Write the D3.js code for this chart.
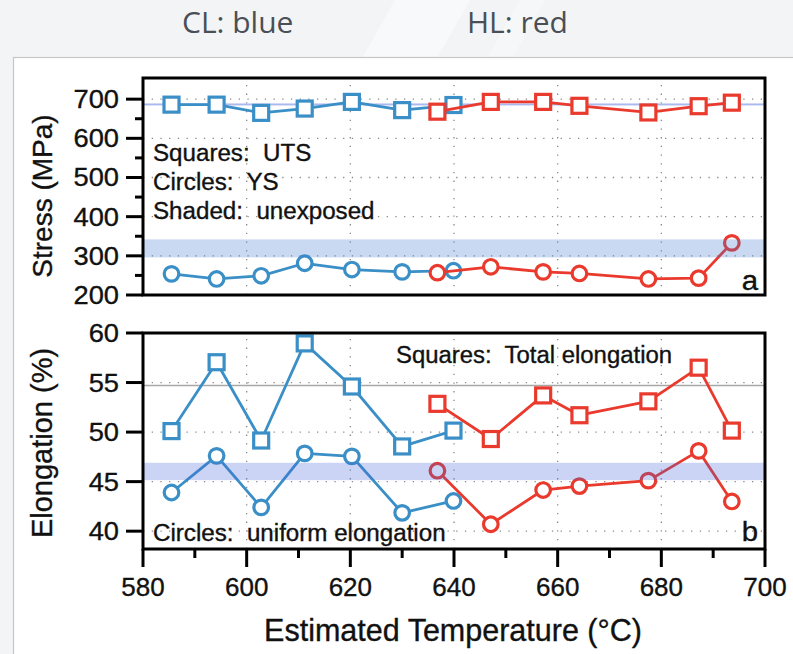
<!DOCTYPE html>
<html><head><meta charset="utf-8">
<script src="https://cdn.jsdelivr.net/npm/d3@7"></script>
<style>html,body{margin:0;padding:0;background:#f4f5f7;} svg{display:block;}</style>
</head><body>
<script>
// ---------- data ----------
const clTemp = [585.5, 594.2, 602.8, 611.2, 620.3, 630.0, 639.9];
const clUTS = [686, 686, 665, 676, 693, 672, 685];
const clYS = [254, 241, 249, 281, 265, 259, 262];
const hlTemp = [636.8, 647.1, 657.2, 664.2, 677.5, 687.2, 693.6];
const hlUTS = [668, 693, 693, 683, 666, 682, 691];
const hlYS = [257, 272, 259, 255, 241, 243, 333];
const clTotalEl = [50.1, 57.05, 49.15, 58.95, 54.6, 48.55, 50.15];
const clUniformEl = [43.9, 47.6, 42.4, 47.85, 47.55, 41.85, 43.05];
const hlTotalEl = [52.85, 49.3, 53.7, 51.7, 53.1, 56.5, 50.15];
const hlUniformEl = [46.1, 40.7, 44.15, 44.55, 45.1, 48.1, 43.0];
const unexposedYS = [296, 342];
const unexposedUTS = [684, 689];
const unexposedUniformEl = [45.15, 46.9];
const unexposedTotalEl = 54.7;
const xTicks = [580, 600, 620, 640, 660, 680, 700];
const xMinor = [590, 610, 630, 650, 670, 690];
const xGrid = [600, 620, 640, 660, 680];
const stressTicks = [200, 300, 400, 500, 600, 700];
const stressMinor = [250, 350, 450, 550, 650];
const stressGrid = [300, 400, 500, 600, 700];
const elTicks = [40, 45, 50, 55, 60];
const elGrid = [40, 45, 50, 55];

const BLUE = "#3b8fc7", RED = "#ea3a2d";
const FONT = "'Liberation Sans', Arial, Helvetica, sans-serif";

const W = 793, H = 654;
const svg = d3.select("body").append("svg").attr("width", W).attr("height", H);

// ---------- page background ----------
svg.append("rect").attr("width", W).attr("height", H).attr("fill", "#f3f4f6");
svg.append("polygon").attr("points", "395,0 470,0 100,654 25,654").attr("fill", "#f8f9fa");
svg.append("polygon").attr("points", "520,0 545,0 175,654 150,654").attr("fill", "#f6f7f8");
svg.append("rect").attr("x", 13.5).attr("y", 57.5).attr("width", 800).attr("height", 620)
  .attr("fill", "#ffffff").attr("stroke", "#c6c6c6").attr("stroke-width", 1.2);
svg.append("text").attr("x", 182).attr("y", 33).text("CL: blue")
  .attr("font-family", "'Open Sans', 'Noto Sans', sans-serif").attr("font-size", 30).attr("fill", "#4a4f55");
svg.append("text").attr("x", 467).attr("y", 33).text("HL: red")
  .attr("font-family", "'Open Sans', 'Noto Sans', sans-serif").attr("font-size", 30).attr("fill", "#4a4f55");

// ---------- scales ----------
const x = d3.scaleLinear().domain([580, 700]).range([143, 765]);
const yA = d3.scaleLinear().domain([200, 754]).range([295, 78]);
const yB = d3.scaleLinear().domain([38.2, 60]).range([549, 333]);

function txt(g, px, py, s, size, anchor, sx) {
  return g.append("text")
    .attr("transform", `translate(${px},${py}) scale(${sx || 1},1)`)
    .attr("text-anchor", anchor || "start")
    .attr("font-family", FONT).attr("font-size", size).attr("fill", "#111")
    .attr("stroke", "#111").attr("stroke-width", 0.35)
    .attr("xml:space", "preserve").style("white-space", "pre")
    .text(s);
}

function panel(y, grid, ticks, minor, fmt, series, bands, refLine, refColor, id) {
  const g = svg.append("g");
  const [y0, y1] = y.range();
  g.append("clipPath").attr("id", id).append("rect")
    .attr("x", x(580)).attr("y", y1).attr("width", x(700) - x(580)).attr("height", y0 - y1);
  const gc = g.append("g").attr("clip-path", `url(#${id})`);
  // dotted grid
  gc.selectAll(".hg").data(grid).join("line")
    .attr("x1", x(580)).attr("x2", x(700)).attr("y1", d => y(d)).attr("y2", d => y(d))
    .attr("stroke", "#8a8a8a").attr("stroke-width", 1.3).attr("stroke-dasharray", "1.3,7.4");
  gc.selectAll(".vg").data(xGrid).join("line")
    .attr("y1", y0).attr("y2", y1).attr("x1", d => x(d)).attr("x2", d => x(d))
    .attr("stroke", "#8a8a8a").attr("stroke-width", 1.3).attr("stroke-dasharray", "1.3,7.4");
  // reference line
  if (Array.isArray(refLine)) {
    gc.append("rect").attr("x", x(580)).attr("width", x(700) - x(580))
      .attr("y", y(refLine[1])).attr("height", y(refLine[0]) - y(refLine[1]))
      .attr("fill", refColor);
  } else {
    gc.append("line").attr("x1", x(580)).attr("x2", x(700))
      .attr("y1", y(refLine)).attr("y2", y(refLine)).attr("stroke", refColor).attr("stroke-width", 1.6);
  }
  // series
  const line = d3.line().x(d => x(d[0])).y(d => y(d[1]));
  series.forEach(s => {
    const pts = s.t.map((t, i) => [t, s.v[i]]);
    gc.append("path").attr("d", line(pts)).attr("fill", "none")
      .attr("stroke", s.c).attr("stroke-width", 2.8).attr("stroke-linejoin", "round");
    if (s.m === "sq") {
      gc.selectAll(null).data(pts).join("rect")
        .attr("x", d => x(d[0]) - 7.5).attr("y", d => y(d[1]) - 7.5).attr("width", 15).attr("height", 15)
        .attr("fill", "#fff").attr("stroke", s.c).attr("stroke-width", 3.2);
    } else {
      gc.selectAll(null).data(pts).join("circle")
        .attr("cx", d => x(d[0])).attr("cy", d => y(d[1])).attr("r", 7.3)
        .attr("fill", "#fff").attr("stroke", s.c).attr("stroke-width", 3.2);
    }
  });
  // translucent band (unexposed)
  bands.forEach(b => {
    gc.append("rect").attr("x", x(580)).attr("width", x(700) - x(580))
      .attr("y", y(b.r[1])).attr("height", y(b.r[0]) - y(b.r[1]))
      .attr("fill", b.c).attr("fill-opacity", 0.28);
  });
  // frame
  g.append("rect").attr("x", x(580)).attr("y", y1).attr("width", x(700) - x(580)).attr("height", y0 - y1)
    .attr("fill", "none").attr("stroke", "#000").attr("stroke-width", 3);
  // y ticks
  g.selectAll(".yt").data(ticks).join("line")
    .attr("x1", x(580) - 17).attr("x2", x(580)).attr("y1", d => y(d)).attr("y2", d => y(d))
    .attr("stroke", "#000").attr("stroke-width", 3);
  g.selectAll(".ym").data(minor).join("line")
    .attr("x1", x(580) - 8).attr("x2", x(580)).attr("y1", d => y(d)).attr("y2", d => y(d))
    .attr("stroke", "#000").attr("stroke-width", 3);
  ticks.forEach(t => txt(g, 119, y(t) + 9, fmt(t), 26, "end", 1.05));
  return g;
}

const gA = panel(yA, stressGrid, stressTicks, stressMinor, d3.format("d"), [
  { t: clTemp, v: clUTS, c: BLUE, m: "sq" },
  { t: clTemp, v: clYS, c: BLUE, m: "ci" },
  { t: hlTemp, v: hlUTS, c: RED, m: "sq" },
  { t: hlTemp, v: hlYS, c: RED, m: "ci" }
], [{ r: unexposedYS, c: "#3f78d0" }], unexposedUTS, "#aab9ee", "clipA");

const gB = panel(yB, elGrid, elTicks, [], d3.format("d"), [
  { t: clTemp, v: clTotalEl, c: BLUE, m: "sq" },
  { t: clTemp, v: clUniformEl, c: BLUE, m: "ci" },
  { t: hlTemp, v: hlTotalEl, c: RED, m: "sq" },
  { t: hlTemp, v: hlUniformEl, c: RED, m: "ci" }
], [{ r: unexposedUniformEl, c: "#4664d8" }], unexposedTotalEl, "#a8a8a8", "clipB");

// x axis ticks (bottom panel)
gB.selectAll(".xt").data(xTicks).join("line")
  .attr("x1", d => x(d)).attr("x2", d => x(d)).attr("y1", 549).attr("y2", 567)
  .attr("stroke", "#000").attr("stroke-width", 3);
gB.selectAll(".xm").data(xMinor).join("line")
  .attr("x1", d => x(d)).attr("x2", d => x(d)).attr("y1", 549).attr("y2", 558)
  .attr("stroke", "#000").attr("stroke-width", 3);
xTicks.forEach(t => txt(gB, x(t), 596, String(t), 26, "middle", 1.0));

// annotations
txt(gA, 153, 161, "Squares:  UTS", 23, "start", 1.05);
txt(gA, 153, 190, "Circles:  YS", 23, "start", 1.05);
txt(gA, 153, 219, "Shaded:  unexposed", 23, "start", 1.05);
txt(gA, 758, 290, "a", 28, "end", 1.05);
txt(gB, 396, 363, "Squares:  Total elongation", 23, "start", 1.04);
txt(gB, 153, 541, "Circles:  uniform elongation", 23, "start", 1.05);
txt(gB, 758, 541, "b", 28, "end", 1.05);

// axis titles
svg.append("text").attr("transform", `translate(52,196) rotate(-90)`).attr("text-anchor", "middle")
  .attr("font-family", FONT).attr("font-size", 28).attr("fill", "#111")
  .attr("stroke", "#111").attr("stroke-width", 0.35).text("Stress (MPa)");
svg.append("text").attr("transform", `translate(52,443) rotate(-90)`).attr("text-anchor", "middle")
  .attr("font-family", FONT).attr("font-size", 29).attr("fill", "#111")
  .attr("stroke", "#111").attr("stroke-width", 0.35).text("Elongation (%)");
svg.append("text").attr("x", 453).attr("y", 641).attr("text-anchor", "middle")
  .attr("font-family", FONT).attr("font-size", 30.5).attr("fill", "#111")
  .attr("stroke", "#111").attr("stroke-width", 0.35).text("Estimated Temperature (°C)");
</script>
</body></html>
